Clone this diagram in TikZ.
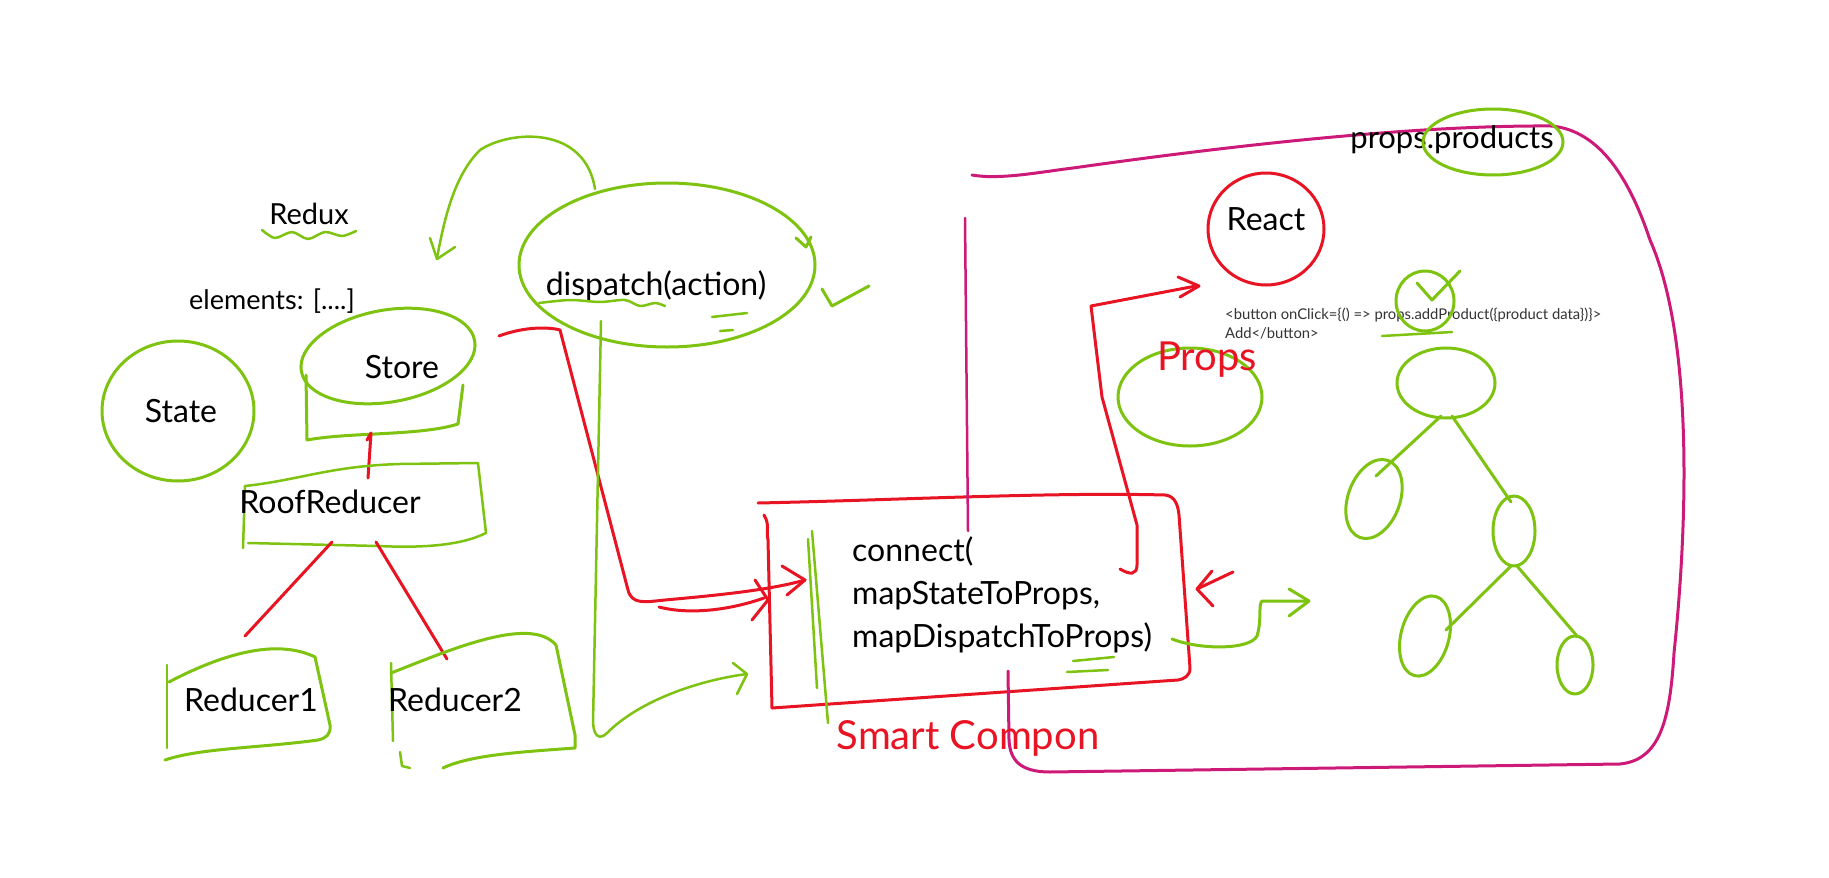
\documentclass[tikz,border=0pt]{standalone}
\usepackage{fontspec}
\setmainfont{Lato}
\definecolor{sgreen}{RGB}{125,195,15}
\definecolor{sred}{RGB}{232,20,35}
\definecolor{smag}{RGB}{205,25,120}
\begin{document}
\begin{tikzpicture}[x=1pt,y=-1pt,line cap=round,line join=round,
  gline/.style={draw=sgreen,line width=3pt},
  rline/.style={draw=sred,line width=3pt},
  mline/.style={draw=smag,line width=3pt},
  lbl/.style={font=\fontsize{32}{43}\selectfont,text=black,inner sep=0pt},
  hand/.style={font=\fontsize{40}{44}\selectfont,text=sred,inner sep=0pt}]
\fill[white] (0,0) rectangle (1829,878);
\useasboundingbox (0,0) rectangle (1829,878);

% ---- Redux title
\node[lbl,font=\fontsize{29}{30}\selectfont] (redux) at (309,214) {Redux};
\draw[gline,line width=2.5pt] plot[smooth] coordinates {(262,230) (275,238) (292,232) (308,239) (325,232) (342,236) (356,231)};
\node[lbl,font=\fontsize{27}{30}\selectfont] (elements) at (272,301) {elements: [....]};

% ---- State
\draw[gline] (178,411) ellipse [x radius=76,y radius=70];
\node[lbl] (state) at (181,411) {State};

% ---- Store
\draw[gline,rotate around={10:(388,356)}] (388,356) ellipse [x radius=88,y radius=46];
\draw[gline] (306,375) -- (307,440) .. controls (350,432) and (420,436) .. (458,424) -- (463,385);
\node[lbl] (store) at (402,367) {Store};
\draw[rline] (367,440) -- (371,433) -- (368,478);

% ---- RootReducer
\draw[gline,line width=2.5pt] (245,486) .. controls (300,480) and (330,466) .. (400,464) -- (478,463) -- (486,533) .. controls (460,546) and (420,548) .. (378,546) -- (248,543);
\draw[gline,line width=2.5pt] (245,486) -- (243,548);
\node[lbl] (root) at (330,502) {RoofReducer};
\draw[rline] (332,542) -- (245,636);
\draw[rline] (376,542) -- (447,659);

% ---- Reducer1
\draw[gline,line width=2.5pt] (167,665) -- (167,748);
\draw[gline] (169,682) .. controls (230,650) and (280,640) .. (315,657) -- (330,725) .. controls (331,735) and (326,738) .. (318,740) .. controls (260,748) and (200,748) .. (165,760);
\node[lbl] (red1) at (251,700) {Reducer1};

% ---- Reducer2
\draw[gline,line width=2.5pt] (391,663) -- (393,741);
\draw[gline,line width=2.5pt] (400,752) -- (402,766) -- (410,768);
\draw[gline] (391,673) .. controls (450,650) and (530,615) .. (556,645) -- (575,735) -- (575,748) .. controls (520,752) and (470,755) .. (443,768);
\node[lbl] (red2) at (455,700) {Reducer2};

% ---- dispatch
\draw[gline] (667,265) ellipse [x radius=148,y radius=82];
\draw[gline] (796,238) -- (806,247) -- (811,237);
\node[lbl] (dispatch) at (656,286) {dispatch(action)};
\draw[gline,line width=2.5pt] plot[smooth] coordinates {(539,303) (570,300) (600,302) (625,300) (640,306) (655,303) (665,306)};
\draw[gline,line width=2.5pt] (712,317) -- (747,313);
\draw[gline,line width=2.5pt] (720,331) -- (733,330);
\draw[gline] (822,289) -- (832,306) -- (869,286);
% arc arrow
\draw[gline,line width=2.5pt] (595,189) .. controls (585,125) and (510,130) .. (480,150) .. controls (455,175) and (445,215) .. (437,258);
\draw[gline,line width=2.5pt] (430,238) -- (437,259) -- (455,247);

% ---- red store -> connect
\draw[rline] (499,336) .. controls (520,328) and (545,326) .. (560,330) -- (628,590) .. controls (632,605) and (645,602) .. (665,600) .. controls (720,595) and (770,590) .. (805,580);
\draw[rline] (782,566) -- (805,580) -- (787,595);
\draw[rline] (659,607) .. controls (690,615) and (730,610) .. (764,598);
\draw[rline] (755,580) -- (768,600) -- (752,620);

% ---- green dispatch -> connect
\draw[gline,line width=2.5pt] (601,321) -- (593,723) .. controls (594,737) and (600,740) .. (607,733) .. controls (640,700) and (700,680) .. (747,674);
\draw[gline,line width=2.5pt] (733,663) -- (747,674) -- (737,694);

% ---- connect box
\draw[rline] (758,503) .. controls (900,500) and (1050,492) .. (1165,495) .. controls (1175,496) and (1178,505) .. (1179,515) -- (1190,668) .. controls (1190,676) and (1184,679) .. (1178,680) -- (772,708);
\draw[rline] (764,515) .. controls (770,525) and (766,530) .. (768,540) -- (772,708);
\draw[gline,line width=2.5pt] (808,539) -- (817,688);
\draw[gline,line width=2.5pt] (812,531) -- (828,723);
\node[lbl,anchor=west,align=left] (connect) at (852,595) {connect(\\mapStateToProps,\\mapDispatchToProps)};
\draw[gline,line width=2.5pt] (1073,661) -- (1114,657);
\draw[gline,line width=2.5pt] (1067,672) -- (1108,670);

% ---- magenta lines
\draw[mline,line width=2.5pt] (965,218) -- (968,531);
\draw[mline] (972,175) .. controls (1000,180) and (1040,172) .. (1073,168) .. controls (1200,150) and (1400,125) .. (1551,126) .. controls (1600,130) and (1630,180) .. (1650,240) .. controls (1690,330) and (1690,500) .. (1674,653) .. controls (1670,720) and (1660,760) .. (1620,764) -- (1050,772) .. controls (1020,772) and (1010,760) .. (1009,740) -- (1008,671);

\node[hand] (smart) at (968,738) {Smart Compon};

% ---- arrows right of connect
\draw[rline] (1233,572) -- (1197,589);
\draw[rline] (1212,571) -- (1197,589) -- (1213,606);
\draw[gline] (1172,639) .. controls (1200,650) and (1250,650) .. (1257,636) .. controls (1262,620) and (1258,605) .. (1262,601) -- (1306,601);
\draw[gline] (1289,589) -- (1309,601) -- (1289,616);
\draw[rline] (1120,569) .. controls (1130,575) and (1137,575) .. (1137,565) -- (1137,525) -- (1102,397) -- (1091,306) -- (1196,286);
\draw[rline] (1178,277) -- (1199,286) -- (1180,297);

% ---- React
\draw[rline] (1266,229) ellipse [x radius=58,y radius=56];
\node[lbl] (react) at (1266,219) {React};

% ---- props.products
\node[lbl,font=\fontsize{31}{32}\selectfont] (pprod) at (1452,140) {props.products};
\draw[gline] (1493,142) ellipse [x radius=70,y radius=33];

% ---- button text
\node[inner sep=0pt,anchor=north west,align=left,font=\fontsize{14.8}{19}\selectfont,text=black!80] (button) at (1225,308) {<button onClick=\{() => props.addProduct(\{product data\})\}>\\Add</button>};
\draw[gline,line width=2.5pt] (1382,336) -- (1452,332);

% ---- Props
\draw[gline] (1190,397) ellipse [x radius=72,y radius=49];
\node[hand] (propslbl) at (1207,360) {Props};

% ---- tree
\draw[gline] (1425,301) ellipse [x radius=29,y radius=30];
\draw[gline] (1417,283) -- (1432,300) -- (1460,271);
\draw[gline] (1446,383) ellipse [x radius=49,y radius=35];
\draw[gline] (1441,416) -- (1376,476);
\draw[gline] (1452,416) -- (1511,502);
\draw[gline,rotate around={-20:(1374,499)}] (1374,499) ellipse [x radius=26,y radius=41];
\draw[gline] (1514,531) ellipse [x radius=21,y radius=35];
\draw[gline] (1511,566) -- (1446,630);
\draw[gline] (1517,566) -- (1577,636);
\draw[gline,rotate around={-15:(1425,636)}] (1425,636) ellipse [x radius=24,y radius=41];
\draw[gline] (1575,665) ellipse [x radius=18,y radius=29];
\end{tikzpicture}
\end{document}
